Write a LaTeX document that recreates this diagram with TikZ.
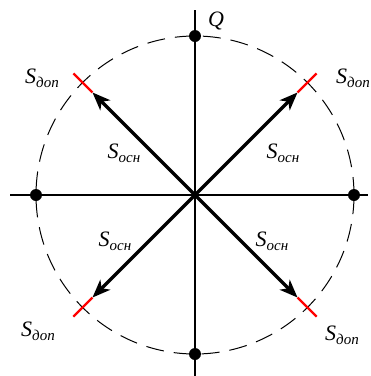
\documentclass[tikz,border=0pt]{standalone}
\usepackage{fontspec}
\setmainfont{Liberation Serif}
\usetikzlibrary{arrows.meta,calc}
\newcommand\Slab[1]{{\fontsize{22}{22}\selectfont\itshape S}\raisebox{-4pt}{\fontsize{15}{15}\selectfont\itshape #1}}
\begin{document}
\begin{tikzpicture}[x=1pt,y=-1pt,
  axis/.style={line width=1.2pt},
  circ/.style={line width=1pt,dash pattern=on 18pt off 10pt},
  vec/.style={line width=3.2pt,-{Stealth[length=18pt,width=14pt,inset=5pt]}},
  tick/.style={red,line width=2.4pt},
  dot/.style={circle,fill=black,inner sep=0pt,minimum size=12pt},
  lab/.style={inner sep=0pt}]
\useasboundingbox (0,0) rectangle (371,376);
\coordinate (O) at (195,195);
% axes
\coordinate (xl) at (10,195);
\coordinate (xr) at (368,195);
\coordinate (yt) at (195,10);
\coordinate (yb) at (195,376);
\draw[axis] (xl) -- (xr);
\draw[axis] (yt) -- (yb);
% circle
\draw[circ] (O) circle[radius=159pt];
% dots
\node[dot] (dt) at (195,36) {};
\node[dot] (db) at (195,354) {};
\node[dot] (dl) at (36,195) {};
\node[dot] (dr) at (354,195) {};
% vector ends and ticks
\foreach \n/\a in {ur/45,ul/135,ll/225,lr/315}{
  \coordinate (\n) at ($(O)+(\a:145pt)$);
  \coordinate (\n t) at ($(O)+(\a:172pt)$);
  \draw[vec] (O) -- (\n);
  \draw[tick] (\n) -- (\n t);
}
% labels
\node[lab] (Q) at (216,21) {{\fontsize{22}{22}\selectfont\itshape Q}};
\node[lab] (d1) at (42,78) {\Slab{доп}};
\node[lab] (d2) at (353,78) {\Slab{доп}};
\node[lab] (d3) at (38,331) {\Slab{доп}};
\node[lab] (d4) at (342,335) {\Slab{доп}};
\node[lab] (o1) at (124,153) {\Slab{осн}};
\node[lab] (o2) at (283,153) {\Slab{осн}};
\node[lab] (o3) at (115,241) {\Slab{осн}};
\node[lab] (o4) at (272,241) {\Slab{осн}};
\end{tikzpicture}
\end{document}
